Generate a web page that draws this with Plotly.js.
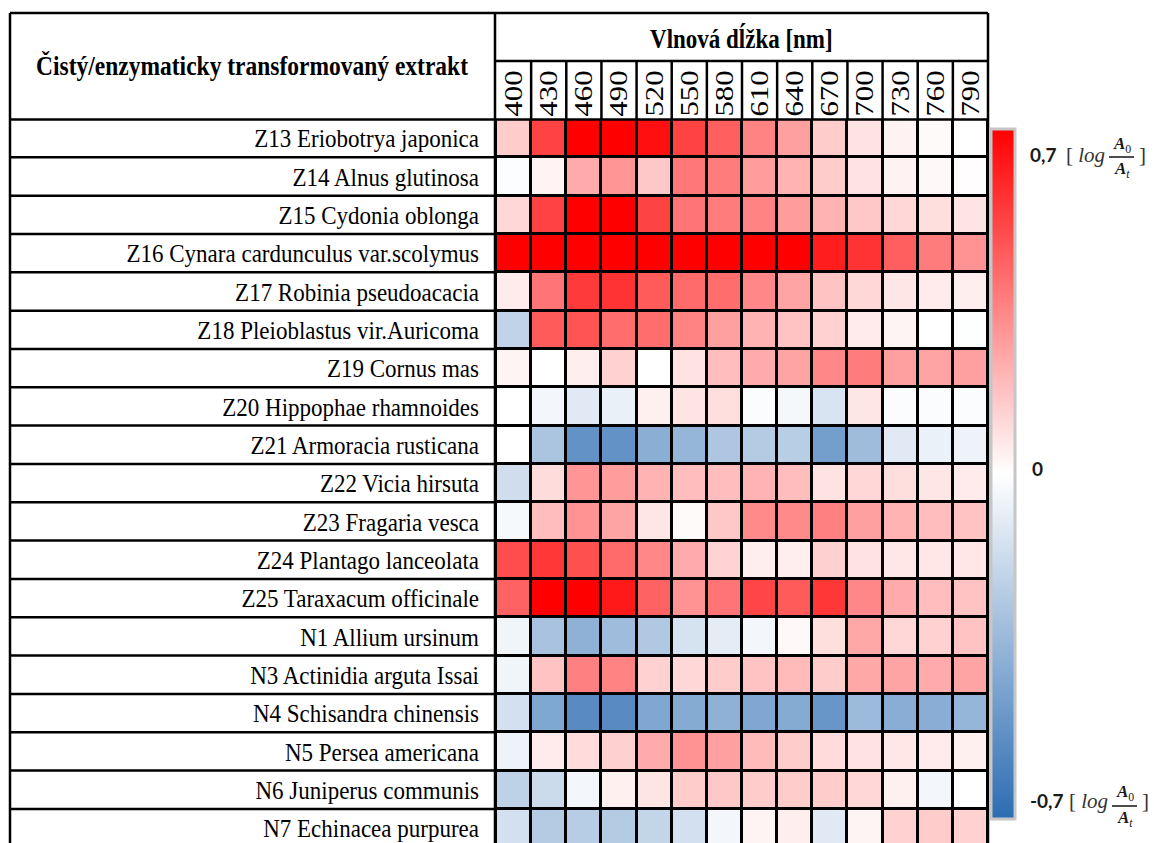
<!DOCTYPE html>
<html>
<head>
<meta charset="utf-8">
<script src="https://cdn.plot.ly/plotly-3.0.1.min.js"></script>
<style>
  html, body { margin: 0; padding: 0; background: #fff; }
  #chart { width: 1154px; height: 843px; }
</style>
</head>
<body>
<div id="chart"></div>
<script>
// ---- data ----
const wavelengths = ['400','430','460','490','520','550','580','610','640','670','700','730','760','790'];
const extracts = [
  'Z13 Eriobotrya japonica',
  'Z14 Alnus glutinosa',
  'Z15 Cydonia oblonga',
  'Z16 Cynara cardunculus var.scolymus',
  'Z17 Robinia pseudoacacia',
  'Z18 Pleioblastus vir.Auricoma',
  'Z19 Cornus mas',
  'Z20 Hippophae rhamnoides',
  'Z21 Armoracia rusticana',
  'Z22 Vicia hirsuta',
  'Z23 Fragaria vesca',
  'Z24 Plantago lanceolata',
  'Z25 Taraxacum officinale',
  'N1 Allium ursinum',
  'N3 Actinidia arguta Issai',
  'N4 Schisandra chinensis',
  'N5 Persea americana',
  'N6 Juniperus communis',
  'N7 Echinacea purpurea'
];
const z13 = [0.14,0.52,0.70,0.70,0.66,0.52,0.44,0.34,0.26,0.14,0.08,0.035,0.015,0.0];
const z14 = [-0.01,0.03,0.23,0.29,0.15,0.37,0.36,0.27,0.21,0.14,0.08,0.035,0.02,0.005];
const z15 = [0.11,0.52,0.70,0.70,0.52,0.38,0.36,0.34,0.27,0.21,0.15,0.11,0.09,0.075];
const z16 = [0.70,0.70,0.70,0.70,0.70,0.70,0.70,0.70,0.70,0.62,0.56,0.44,0.36,0.30];
const z17 = [0.055,0.38,0.54,0.56,0.45,0.41,0.40,0.33,0.25,0.165,0.11,0.07,0.055,0.047];
const z18 = [-0.21,0.45,0.47,0.40,0.40,0.34,0.26,0.21,0.165,0.125,0.055,0.03,0.0,-0.005];
const z19 = [0.03,0.0,0.047,0.125,0.0,0.08,0.18,0.23,0.25,0.33,0.36,0.26,0.25,0.26];
const z20 = [0.0,-0.04,-0.10,-0.07,0.04,0.075,0.09,-0.015,-0.035,-0.13,0.07,-0.015,-0.015,-0.015];
const z21 = [0.0,-0.28,-0.52,-0.52,-0.385,-0.35,-0.27,-0.25,-0.235,-0.46,-0.32,-0.10,-0.067,-0.057];
const z22 = [-0.16,0.095,0.29,0.27,0.21,0.18,0.18,0.21,0.18,0.08,0.11,0.09,0.07,0.055];
const z23 = [-0.03,0.18,0.30,0.25,0.07,0.015,0.15,0.32,0.32,0.35,0.26,0.21,0.18,0.165];
const z24 = [0.49,0.55,0.48,0.41,0.33,0.23,0.12,0.047,0.047,0.13,0.08,0.065,0.065,0.065];
const z25 = [0.43,0.70,0.70,0.63,0.43,0.30,0.38,0.51,0.45,0.55,0.33,0.23,0.18,0.165];
const n1  = [-0.05,-0.29,-0.37,-0.32,-0.26,-0.14,-0.09,-0.04,0.02,0.09,0.24,0.11,0.125,0.165];
const n3  = [-0.05,0.165,0.35,0.34,0.125,0.11,0.14,0.165,0.19,0.14,0.24,0.25,0.23,0.25];
const n4  = [-0.15,-0.42,-0.55,-0.55,-0.42,-0.40,-0.37,-0.42,-0.40,-0.50,-0.33,-0.39,-0.39,-0.35];
const n5  = [-0.057,0.055,0.10,0.13,0.23,0.30,0.26,0.19,0.14,0.10,0.08,0.065,0.055,0.04];
const n6  = [-0.22,-0.17,-0.04,0.04,0.075,0.14,0.15,0.14,0.14,0.14,0.11,0.04,-0.04,0.0];
const n7  = [-0.15,-0.25,-0.24,-0.25,-0.20,-0.15,-0.04,0.03,0.047,-0.10,0.03,0.125,0.14,0.125];
const zRows = [z13,z14,z15,z16,z17,z18,z19,z20,z21,z22,z23,z24,z25,n1,n3,n4,n5,n6,n7];
const zMin = -0.7, zMax = 0.7;

// ---- geometry helpers (page pixels -> paper) ----
const PAGE_W = 1154, PAGE_H = 843;
const M = {l: 496, r: 166, t: 119, b: 0};
const PW = PAGE_W - M.l - M.r, PH = PAGE_H - M.t - M.b;
const px2x = px => (px - M.l) / PW;
const py2y = py => (PAGE_H - M.b - py) / PH;

const serif = 'Liberation Serif, Times New Roman, serif';
const LW = 2.5;
const shapes = [];
function line(x0, y0, x1, y1, xref, yref, w) {
  shapes.push({type: 'line', xref: xref || 'paper', yref: yref || 'paper', x0, y0, x1, y1,
    line: {color: '#000', width: w || LW}, layer: 'above'});
}
// outer table frame
line(px2x(10), py2y(13), px2x(988), py2y(13));
line(px2x(10), py2y(13), px2x(10), py2y(843));
line(px2x(495), py2y(13), px2x(495), py2y(843));
line(px2x(988), py2y(13), px2x(988), py2y(843));
line(px2x(495), py2y(61), px2x(988), py2y(61));
line(px2x(10), py2y(119.5), px2x(988), py2y(119.5));
// row separators in the label column
for (let i = 0; i < extracts.length - 1; i++) {
  shapes.push({type: 'line', xref: 'paper', yref: 'y', x0: px2x(10), x1: px2x(496), y0: i + 0.5, y1: i + 0.5,
    line: {color: '#000', width: LW}, layer: 'above'});
}
// column separators in the wavelength header row
for (let j = 0; j < wavelengths.length - 1; j++) {
  shapes.push({type: 'line', xref: 'x', yref: 'paper', x0: j + 0.5, x1: j + 0.5, y0: py2y(61), y1: py2y(119),
    line: {color: '#000', width: LW}, layer: 'above'});
}
// fraction bars for colorbar labels
line(px2x(1109), py2y(157), px2x(1134), py2y(157), 'paper', 'paper', 1.4);
line(px2x(1112), py2y(806), px2x(1137), py2y(806), 'paper', 'paper', 1.4);

const sansB = 'Lato, Open Sans, sans-serif';
const mathF = 'Liberation Serif, DejaVu Serif, serif';
const ann = (text, px, py, opts) => Object.assign({
  text, xref: 'paper', yref: 'paper', x: px2x(px), y: py2y(py),
  showarrow: false, xanchor: 'center', yanchor: 'middle'
}, opts || {});

const annotations = [
  ann('<b>Čistý/enzymaticky transformovaný extrakt</b>', 252, 66, {font: {family: serif, size: 23.5, color: '#000'}}),
  ann('<b>Vlnová dĺžka [nm]</b>', 741, 39, {font: {family: serif, size: 23, color: '#000'}}),
  // top label
  ann('<b>0,7</b>', 1028, 154, {xanchor: 'left', font: {family: sansB, size: 19, color: '#1a1a1a'}}),
  ann('[ <i>log</i>', 1064, 155, {xanchor: 'left', font: {family: mathF, size: 21, color: '#333'}}),
  ann('<b><i>A</i></b><sub>0</sub>', 1122, 145, {font: {family: mathF, size: 17, color: '#1a1a1a'}}),
  ann('<b><i>A</i></b><sub><i>t</i></sub>', 1122, 170, {font: {family: mathF, size: 17, color: '#1a1a1a'}}),
  ann(']', 1137, 155, {xanchor: 'left', font: {family: mathF, size: 21, color: '#333'}}),
  // middle
  ann('<b>0</b>', 1030, 468, {xanchor: 'left', font: {family: sansB, size: 19, color: '#1a1a1a'}}),
  // bottom label
  ann('<b>-0,7</b>', 1028, 800, {xanchor: 'left', font: {family: sansB, size: 19, color: '#1a1a1a'}}),
  ann('[ <i>log</i>', 1067, 801, {xanchor: 'left', font: {family: mathF, size: 21, color: '#333'}}),
  ann('<b><i>A</i></b><sub>0</sub>', 1125, 793, {font: {family: mathF, size: 17, color: '#1a1a1a'}}),
  ann('<b><i>A</i></b><sub><i>t</i></sub>', 1125, 819, {font: {family: mathF, size: 17, color: '#1a1a1a'}}),
  ann(']', 1140, 801, {xanchor: 'left', font: {family: mathF, size: 21, color: '#333'}})
];

const trace = {
  type: 'heatmap',
  x: wavelengths,
  y: extracts,
  z: zRows,
  zmin: zMin, zmax: zMax,
  colorscale: [[0, 'rgb(44,108,178)'], [0.5, 'rgb(255,255,255)'], [1, 'rgb(255,0,0)']],
  xgap: 3, ygap: 3,
  hoverinfo: 'skip',
  colorbar: {
    x: px2x(991), xanchor: 'left', xpad: 0,
    y: py2y(129), yanchor: 'top', ypad: 0,
    len: 690, lenmode: 'pixels',
    thickness: 24, thicknessmode: 'pixels',
    outlinewidth: 3, outlinecolor: '#c6c6c6',
    showticklabels: false, ticks: '', borderwidth: 0
  }
};

const layout = {
  width: PAGE_W, height: PAGE_H,
  margin: {l: M.l, r: M.r, t: M.t, b: M.b, autoexpand: false},
  paper_bgcolor: '#fff',
  plot_bgcolor: '#000',
  xaxis: {
    type: 'category', side: 'top', tickangle: -90,
    tickfont: {family: serif, size: 26, color: '#000'},
    ticks: '', showgrid: false, zeroline: false, showline: false,
    ticklabelstandoff: 5, fixedrange: true
  },
  yaxis: {
    type: 'category', range: [18.39, -0.5],
    tickfont: {family: serif, size: 23, color: '#000'},
    ticks: '', showgrid: false, zeroline: false, showline: false,
    ticklabelstandoff: 16, fixedrange: true
  },
  shapes, annotations,
  showlegend: false
};

// The reference typesetting is slightly tall/narrow: stretch text along one axis about its centre.
function stretch(selector, fx, fy) {
  document.querySelectorAll(selector).forEach(node => {
    const b = node.getBBox();
    const cx = b.x + b.width / 2, cy = b.y + b.height / 2;
    const t = node.getAttribute('transform') || '';
    node.setAttribute('transform',
      `${t} translate(${cx} ${cy}) scale(${fx} ${fy}) translate(${-cx} ${-cy})`);
  });
}

Plotly.newPlot('chart', [trace], layout, {displayModeBar: false, staticPlot: true}).then(() => {
  // y labels: taller; x labels (rotated) are stretched along their length
  stretch('#chart .ytick text', 1, 1.14);
  stretch('#chart .xtick text', 1.18, 1);
  stretch('#chart .annotation[data-index="0"] text', 1, 1.15);
  stretch('#chart .annotation[data-index="1"] text', 1, 1.15);
});
</script>
</body>
</html>
